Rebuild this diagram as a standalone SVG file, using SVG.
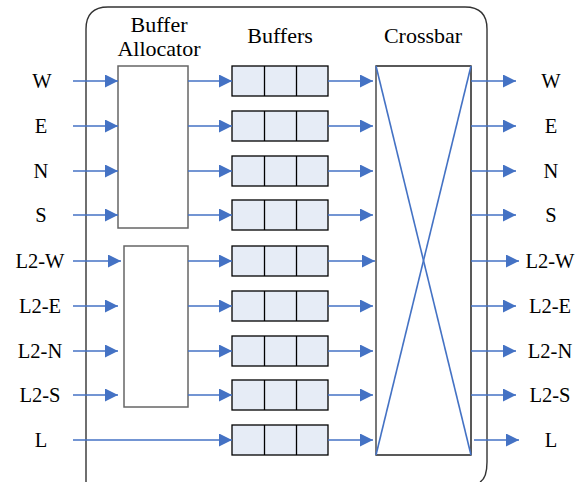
<svg xmlns="http://www.w3.org/2000/svg" width="585" height="482" viewBox="0 0 585 482">
  <defs>
    <marker id="head" markerUnits="userSpaceOnUse" markerWidth="14" markerHeight="14" refX="13" refY="6.5" orient="auto">
      <path d="M0,0 L13,6.5 L0,13 Z" fill="#4472C4" stroke="none"/>
    </marker>
    <!-- one three-slot input buffer, centred on its row -->
    <g id="bufcell" stroke="#000" stroke-width="1.3">
      <rect x="0" y="-15" width="96" height="30" fill="#E6ECF6"/>
      <line x1="32.5" y1="-15" x2="32.5" y2="15"/>
      <line x1="64.5" y1="-15" x2="64.5" y2="15"/>
    </g>
  </defs>
  <rect width="585" height="482" fill="#fff"/>

  <!-- router enclosure -->
  <g id="router">
    <path d="M86,482 L86,29 Q86,7 108,7 L465,7 Q487,7 487,29 L487,462 Q487,478 480,482" fill="none" stroke="#333" stroke-width="1.4"/>
  </g>

  <!-- column headings -->
  <g id="headings" text-anchor="middle">
    <text x="159" y="32" font-family="Liberation Serif" font-size="22">Buffer</text>
    <text x="159" y="56" font-family="Liberation Serif" font-size="22">Allocator</text>
    <text x="280" y="43" font-family="Liberation Serif" font-size="22">Buffers</text>
    <text x="423" y="43" font-family="Liberation Serif" font-size="22">Crossbar</text>
  </g>

  <!-- buffer allocators -->
  <g id="allocator-mesh"><rect x="118" y="66" width="70" height="162" fill="#fff" stroke="#666" stroke-width="1.5"/></g>
  <g id="allocator-l2"><rect x="124" y="246" width="64" height="161" fill="#fff" stroke="#666" stroke-width="1.5"/></g>

  <!-- input buffers -->
  <g id="buffers">
    <use href="#bufcell" x="232" y="81"/>
    <use href="#bufcell" x="232" y="126"/>
    <use href="#bufcell" x="232" y="171"/>
    <use href="#bufcell" x="232" y="215"/>
    <use href="#bufcell" x="232" y="261"/>
    <use href="#bufcell" x="232" y="306"/>
    <use href="#bufcell" x="232" y="351"/>
    <use href="#bufcell" x="232" y="395"/>
    <use href="#bufcell" x="232" y="440"/>
  </g>

  <!-- crossbar -->
  <g id="crossbar">
    <rect x="376" y="66" width="95" height="389" fill="#fff" stroke="#000" stroke-width="1.3"/>
    <line x1="376" y1="66" x2="376" y2="455" stroke="#777" stroke-width="2"/>
    <line x1="376" y1="66" x2="471" y2="455" stroke="#4472C4" stroke-width="1.6"/>
    <line x1="471" y1="66" x2="376" y2="455" stroke="#4472C4" stroke-width="1.6"/>
  </g>

  <!-- connectors -->
  <g id="connectors" stroke="#4472C4" stroke-width="1.6" fill="none" marker-end="url(#head)">
    <!-- inputs to allocators -->
    <line x1="73" y1="81" x2="118" y2="81"/>
    <line x1="73" y1="126" x2="118" y2="126"/>
    <line x1="73" y1="171" x2="118" y2="171"/>
    <line x1="73" y1="215" x2="118" y2="215"/>
    <line x1="73" y1="261" x2="121" y2="261"/>
    <line x1="73" y1="306" x2="118" y2="306"/>
    <line x1="73" y1="351" x2="118" y2="351"/>
    <line x1="73" y1="395" x2="118" y2="395"/>
    <line x1="73" y1="440" x2="232" y2="440"/>
    <!-- allocators to buffers -->
    <line x1="188" y1="81" x2="232" y2="81"/>
    <line x1="188" y1="126" x2="232" y2="126"/>
    <line x1="188" y1="171" x2="232" y2="171"/>
    <line x1="188" y1="215" x2="232" y2="215"/>
    <line x1="188" y1="261" x2="232" y2="261"/>
    <line x1="188" y1="306" x2="232" y2="306"/>
    <line x1="188" y1="351" x2="232" y2="351"/>
    <line x1="188" y1="395" x2="232" y2="395"/>
    <!-- buffers to crossbar -->
    <line x1="328" y1="81" x2="373" y2="81"/>
    <line x1="328" y1="126" x2="373" y2="126"/>
    <line x1="328" y1="171" x2="373" y2="171"/>
    <line x1="328" y1="215" x2="373" y2="215"/>
    <line x1="328" y1="261" x2="375" y2="261"/>
    <line x1="328" y1="306" x2="373" y2="306"/>
    <line x1="328" y1="351" x2="373" y2="351"/>
    <line x1="328" y1="395" x2="373" y2="395"/>
    <line x1="328" y1="440" x2="373" y2="440"/>
    <!-- crossbar outputs -->
    <line x1="471" y1="81" x2="516" y2="81"/>
    <line x1="471" y1="126" x2="516" y2="126"/>
    <line x1="471" y1="171" x2="516" y2="171"/>
    <line x1="471" y1="215" x2="516" y2="215"/>
    <line x1="471" y1="261" x2="519" y2="261"/>
    <line x1="471" y1="306" x2="516" y2="306"/>
    <line x1="471" y1="351" x2="516" y2="351"/>
    <line x1="471" y1="395" x2="516" y2="395"/>
    <line x1="474" y1="440" x2="519" y2="440"/>
  </g>

  <!-- port labels -->
  <g id="inputs" text-anchor="middle">
    <text x="42" y="88" font-family="Liberation Serif" font-size="20.5">W</text>
    <text x="41" y="133" font-family="Liberation Serif" font-size="20.5">E</text>
    <text x="41" y="178" font-family="Liberation Serif" font-size="20.5">N</text>
    <text x="41" y="222" font-family="Liberation Serif" font-size="20.5">S</text>
    <text x="40" y="268" font-family="Liberation Serif" font-size="20.5">L2-W</text>
    <text x="40" y="313" font-family="Liberation Serif" font-size="20.5">L2-E</text>
    <text x="40" y="358" font-family="Liberation Serif" font-size="20.5">L2-N</text>
    <text x="40" y="402" font-family="Liberation Serif" font-size="20.5">L2-S</text>
    <text x="41" y="447" font-family="Liberation Serif" font-size="20.5">L</text>
  </g>
  <g id="outputs" text-anchor="middle">
    <text x="551" y="88" font-family="Liberation Serif" font-size="20.5">W</text>
    <text x="551" y="133" font-family="Liberation Serif" font-size="20.5">E</text>
    <text x="551" y="178" font-family="Liberation Serif" font-size="20.5">N</text>
    <text x="551" y="222" font-family="Liberation Serif" font-size="20.5">S</text>
    <text x="550" y="268" font-family="Liberation Serif" font-size="20.5">L2-W</text>
    <text x="550" y="313" font-family="Liberation Serif" font-size="20.5">L2-E</text>
    <text x="550" y="358" font-family="Liberation Serif" font-size="20.5">L2-N</text>
    <text x="550" y="402" font-family="Liberation Serif" font-size="20.5">L2-S</text>
    <text x="551" y="447" font-family="Liberation Serif" font-size="20.5">L</text>
  </g>
</svg>
